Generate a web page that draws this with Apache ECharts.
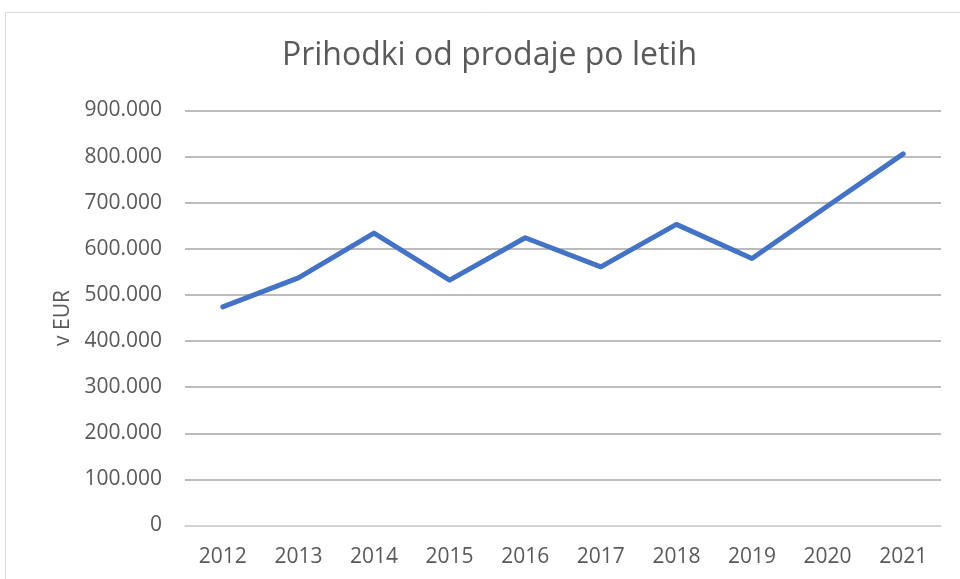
<!DOCTYPE html>
<html><head><meta charset="utf-8">
<script src="https://cdn.jsdelivr.net/npm/echarts@6/dist/echarts.min.js"></script>
<style>html,body{margin:0;padding:0;background:#fff}#c{width:960px;height:579px}</style>
</head><body><div id="c"></div>
<script>
const titleText = 'Prihodki od prodaje po letih';
const yAxisName = 'v EUR';
const years = ['2012','2013','2014','2015','2016','2017','2018','2019','2020','2021'];
const revenue = [474000, 537000, 634000, 532000, 624000, 561000, 653000, 579000, 693000, 806000];
const yMin = 0, yMax = 900000, yStep = 100000;

const chart = echarts.init(document.getElementById('c'), null, {renderer:'canvas'});
const font = '"Open Sans", sans-serif';
chart.setOption({
  animation:false,
  backgroundColor:'#fff',
  graphic:[
    {type:'rect', shape:{x:5.5,y:12.5,width:1000,height:700}, style:{fill:'none',stroke:'#d9d9d9',lineWidth:1}, silent:true},
    {type:'text', x:489.5, y:56, style:{text:titleText, fontFamily:font, fontSize:32, fill:'#595959', textAlign:'center', textVerticalAlign:'middle'}, silent:true}
  ],
  grid:{left:185, right:19, top:110.5, bottom:53.5},
  xAxis:{type:'category', data:years, boundaryGap:true,
    axisLine:{lineStyle:{color:'#d9d9d9', width:1.5}}, axisTick:{show:false},
    axisLabel:{fontFamily:font, fontSize:21, color:'#595959', margin:21}},
  yAxis:{type:'value', min:yMin, max:yMax, interval:yStep, name:yAxisName, nameLocation:'middle', nameGap:111,
    nameTextStyle:{fontFamily:font, fontSize:21, color:'#595959'},
    axisLine:{show:false}, axisTick:{show:false},
    splitLine:{lineStyle:{color:'#a6a6a6', width:1.5}},
    axisLabel:{fontFamily:font, fontSize:21, color:'#595959', margin:23,
      formatter:v=>v===0?'0':String(v).replace(/\B(?=(\d{3})+(?!\d))/g,'.')}},
  series:[{type:'line', data:revenue, symbol:'none', lineStyle:{color:'#4472C4', width:5, cap:'round', join:'round'}}]
});
</script></body></html>
